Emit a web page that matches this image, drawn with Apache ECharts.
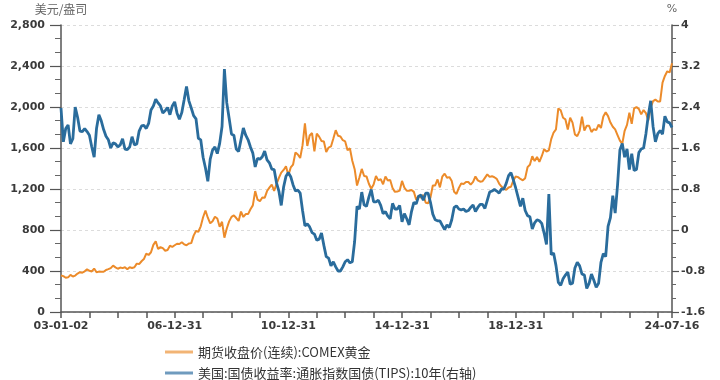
<!DOCTYPE html>
<html>
<head>
<meta charset="utf-8">
<script src="https://cdn.jsdelivr.net/npm/echarts@6/dist/echarts.min.js"></script>
<style>
html,body{margin:0;padding:0;background:#fff;}
#c{width:720px;height:380px;}
</style>
</head>
<body>
<div id="c"></div>
<script>
// ---- data ----
const startYear = 2003, startMonth = 1, endYear = 2024, endMonth = 7;
const seriesNames = ['期货收盘价(连续):COMEX黄金', '美国:国债收益率:通胀指数国债(TIPS):10年(右轴)'];
const leftAxisName = '美元/盎司';
const rightAxisName = '%';
const tickMonths = ['2003-01', '2007-01', '2011-01', '2015-01', '2019-01', '2024-07'];
const tickLabels = ['03-01-02', '06-12-31', '10-12-31', '14-12-31', '18-12-31', '24-07-16'];

// COMEX gold, USD/oz, monthly 2003-01 .. 2024-07
const goldPrice = [
  356, 350, 334, 338, 362, 346, 355, 375, 388, 384, 397, 416,
  402, 396, 424, 388, 394, 393, 392, 410, 418, 428, 452, 436,
  422, 434, 428, 436, 417, 437, 430, 437, 472, 468, 495, 516,
  570, 556, 583, 655, 690, 614, 633, 623, 598, 605, 646, 636,
  651, 666, 663, 680, 660, 651, 668, 672, 745, 790, 783, 836,
  924, 990, 920, 865, 886, 930, 912, 832, 880, 725, 815, 884,
  928, 943, 917, 888, 980, 927, 955, 955, 1003, 1040, 1180, 1096,
  1081, 1118, 1114, 1180, 1213, 1244, 1181, 1247, 1309, 1359, 1386, 1421,
  1333, 1410, 1439, 1557, 1536, 1502, 1628, 1840, 1620, 1722, 1746, 1566,
  1740, 1711, 1669, 1663, 1561, 1604, 1615, 1692, 1773, 1719, 1713, 1676,
  1664, 1579, 1596, 1476, 1393, 1234, 1313, 1396, 1327, 1323, 1251, 1202,
  1244, 1326, 1284, 1296, 1246, 1322, 1282, 1287, 1210, 1172, 1175, 1184,
  1279, 1213, 1183, 1183, 1190, 1172, 1095, 1133, 1115, 1142, 1065, 1061,
  1117, 1234, 1235, 1293, 1216, 1321, 1350, 1309, 1316, 1277, 1174, 1152,
  1211, 1253, 1249, 1268, 1268, 1242, 1269, 1322, 1284, 1271, 1275, 1309,
  1343, 1318, 1325, 1315, 1299, 1253, 1224, 1201, 1192, 1215, 1222, 1283,
  1322, 1316, 1298, 1285, 1306, 1413, 1437, 1520, 1472, 1513, 1465, 1520,
  1589, 1566, 1577, 1687, 1751, 1781, 1986, 1968, 1895, 1879, 1780, 1895,
  1848, 1733, 1715, 1768, 1905, 1771, 1817, 1816, 1756, 1784, 1775, 1828,
  1795, 1908, 1949, 1911, 1848, 1807, 1781, 1726, 1672, 1640, 1768, 1826,
  1944, 1836, 1986, 1999, 1982, 1929, 1970, 1940, 1870, 1995, 2057, 2072,
  2054, 2054, 2238, 2303, 2348, 2337, 2428
];

// US 10Y TIPS yield, %, monthly 2003-01 .. 2024-07
const tipsYield = [
  2.38, 1.72, 1.98, 2.05, 1.68, 1.78, 2.40, 2.20, 1.93, 1.92, 1.98, 1.92,
  1.85, 1.62, 1.42, 1.98, 2.25, 2.13, 1.96, 1.83, 1.76, 1.60, 1.70, 1.68,
  1.62, 1.66, 1.78, 1.58, 1.57, 1.62, 1.82, 1.66, 1.68, 1.93, 2.03, 2.04,
  1.98, 2.08, 2.34, 2.42, 2.55, 2.48, 2.42, 2.28, 2.33, 2.39, 2.25, 2.42,
  2.50, 2.28, 2.16, 2.29, 2.54, 2.80, 2.52, 2.38, 2.23, 2.17, 1.79, 1.76,
  1.42, 1.21, 0.95, 1.38, 1.56, 1.62, 1.49, 1.69, 2.02, 3.14, 2.48, 2.18,
  1.87, 1.85, 1.58, 1.53, 1.76, 1.99, 1.85, 1.76, 1.62, 1.50, 1.23, 1.40,
  1.38, 1.43, 1.54, 1.37, 1.31, 1.19, 1.18, 0.92, 0.76, 0.48, 0.84, 1.05,
  1.12, 1.04, 0.88, 0.76, 0.78, 0.72, 0.38, 0.08, 0.12, 0.06, -0.05, -0.08,
  -0.20, -0.18, -0.06, -0.30, -0.52, -0.55, -0.70, -0.62, -0.72, -0.80, -0.80, -0.72,
  -0.62, -0.58, -0.64, -0.62, -0.22, 0.46, 0.41, 0.74, 0.49, 0.46, 0.64, 0.79,
  0.55, 0.55, 0.58, 0.48, 0.32, 0.36, 0.27, 0.22, 0.52, 0.41, 0.41, 0.48,
  0.16, 0.32, 0.22, 0.10, 0.36, 0.54, 0.51, 0.66, 0.68, 0.58, 0.72, 0.72,
  0.54, 0.31, 0.20, 0.18, 0.18, 0.09, 0.01, 0.10, 0.05, 0.20, 0.44, 0.47,
  0.41, 0.39, 0.41, 0.36, 0.38, 0.44, 0.49, 0.36, 0.44, 0.50, 0.50, 0.42,
  0.58, 0.74, 0.76, 0.79, 0.76, 0.72, 0.80, 0.80, 0.91, 1.06, 1.12, 0.98,
  0.82, 0.64, 0.46, 0.62, 0.38, 0.28, 0.26, 0.02, 0.14, 0.20, 0.18, 0.13,
  -0.06, -0.28, 0.70, -0.48, -0.45, -0.69, -1.02, -1.08, -0.95, -0.88, -0.82, -1.06,
  -1.04, -0.74, -0.63, -0.70, -0.86, -0.88, -1.14, -1.04, -0.86, -0.98, -1.12, -1.04,
  -0.63, -0.46, -0.52, 0.07, 0.24, 0.67, 0.33, 0.87, 1.56, 1.69, 1.42, 1.58,
  1.18, 1.49, 1.16, 1.18, 1.51, 1.58, 1.60, 1.88, 2.24, 2.52, 2.02, 1.72,
  1.88, 1.94, 1.87, 2.22, 2.11, 2.09, 2.00
];

// monthly categories
const months = [];
for (let y = startYear, m = startMonth; y < endYear || (y === endYear && m <= endMonth); ) {
  months.push(y + '-' + String(m).padStart(2, '0'));
  m++; if (m > 12) { m = 1; y++; }
}
const lastIdx = months.length - 1;

const colors = ['#EC8B2A', '#2A6C9C'];
const legendColors = ['#F2B475', '#6F9BBE'];
const labelFont = { fontFamily: 'DejaVu Sans', fontWeight: 'bold', fontSize: 11, color: '#3a3a3a' };

const chart = echarts.init(document.getElementById('c'), null, { renderer: 'canvas' });
chart.setOption({
  animation: false,
  backgroundColor: '#fff',
  grid: { left: 61, right: 48, top: 25, bottom: 68, containLabel: false },
  legend: {
    orient: 'vertical',
    left: 165,
    top: 345,
    height: 60,
    padding: 0,
    itemGap: 7,
    itemWidth: 28,
    itemHeight: 3,
    icon: 'rect',
    textStyle: { fontFamily: 'Noto Sans CJK SC', fontSize: 13, color: '#333', lineHeight: 14 },
    data: [
      { name: seriesNames[0], itemStyle: { color: legendColors[0] } },
      { name: seriesNames[1], itemStyle: { color: legendColors[1] } }
    ]
  },
  xAxis: {
    type: 'category',
    data: months,
    boundaryGap: false,
    axisLine: { lineStyle: { color: '#555', width: 1.5 } },
    axisTick: {
      show: true, length: 6, lineStyle: { color: '#555', width: 1.5 },
      interval: function (i) { return i % 12 === 0 || i === lastIdx; }
    },
    axisLabel: Object.assign({
      margin: 9,
      interval: function (i, v) { return tickMonths.indexOf(v) >= 0; },
      formatter: function (v) { const k = tickMonths.indexOf(v); return k >= 0 ? tickLabels[k] : ''; }
    }, labelFont),
    splitLine: { show: false }
  },
  yAxis: [
    {
      type: 'value',
      min: 0, max: 2800, interval: 400,
      name: leftAxisName,
      nameLocation: 'end',
      nameGap: 10,
      nameTextStyle: { fontFamily: 'Noto Sans CJK SC', fontSize: 12, color: '#666', align: 'center' },
      axisLine: { show: true, lineStyle: { color: '#555', width: 1.5 } },
      axisTick: { show: true, length: 11, lineStyle: { color: '#555', width: 1.2 } },
      minorTick: { show: true, splitNumber: 3, length: 6, lineStyle: { color: '#666', width: 1 } },
      axisLabel: Object.assign({
        margin: 16,
        formatter: function (v) { return v.toLocaleString('en-US'); }
      }, labelFont),
      splitLine: { show: true, lineStyle: { color: '#dcdcdc', type: [3, 3], width: 1 } }
    },
    {
      type: 'value',
      min: -1.6, max: 4, interval: 0.8,
      name: rightAxisName,
      nameLocation: 'end',
      nameGap: 10,
      nameTextStyle: { fontFamily: 'DejaVu Sans', fontSize: 11, color: '#666', align: 'center' },
      axisLine: { show: true, lineStyle: { color: '#555', width: 1.5 } },
      axisTick: { show: true, length: 7, lineStyle: { color: '#555', width: 1.2 } },
      minorTick: { show: true, splitNumber: 3, length: 4, lineStyle: { color: '#666', width: 1 } },
      axisLabel: Object.assign({
        margin: 9,
        formatter: function (v) { return String(Math.round(v * 10) / 10); }
      }, labelFont),
      splitLine: { show: false }
    }
  ],
  series: [
    {
      name: seriesNames[0],
      type: 'line',
      yAxisIndex: 0,
      data: goldPrice,
      showSymbol: false,
      lineStyle: { color: colors[0], width: 2 },
      itemStyle: { color: colors[0] },
      z: 2
    },
    {
      name: seriesNames[1],
      type: 'line',
      yAxisIndex: 1,
      data: tipsYield,
      showSymbol: false,
      lineStyle: { color: colors[1], width: 2.8 },
      itemStyle: { color: colors[1] },
      z: 3
    }
  ]
});
</script>
</body>
</html>
